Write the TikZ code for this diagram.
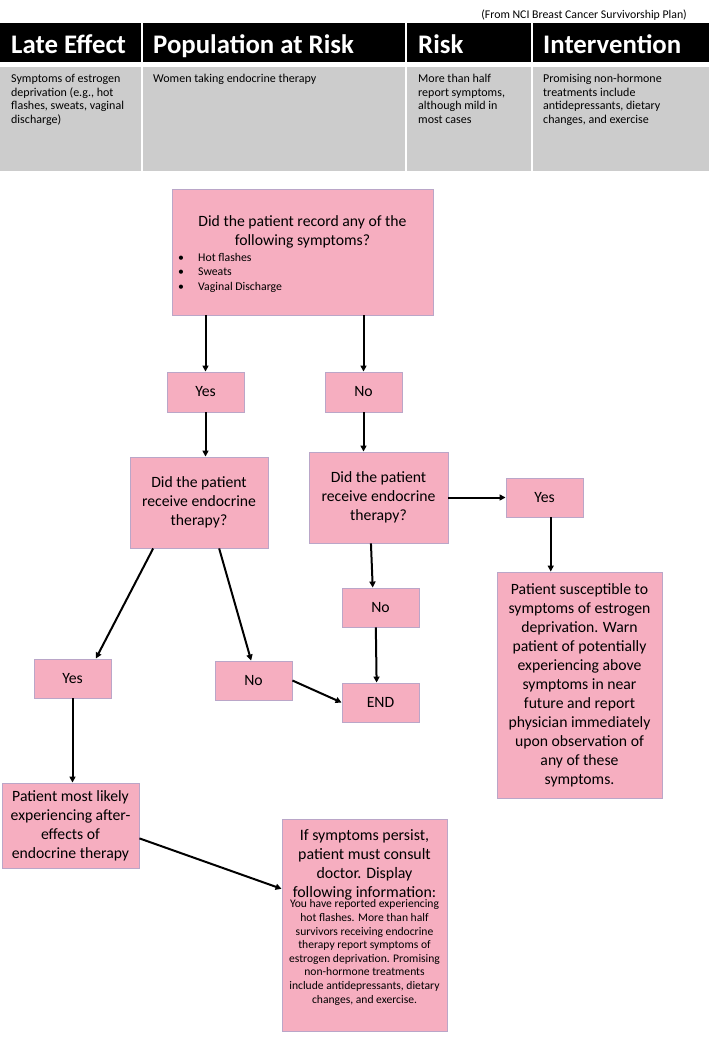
\documentclass[tikz,border=0pt]{standalone}
\usepackage{fontspec}
\setmainfont{Carlito}
\usetikzlibrary{arrows.meta,calc}
\definecolor{pinkfill}{RGB}{246,174,192}
\definecolor{boxline}{RGB}{186,166,200}
\definecolor{cellgray}{RGB}{204,204,204}
\newcommand{\bigtxt}{\fontsize{15.7}{19}\selectfont}
\begin{document}
\begin{tikzpicture}[x=1pt,y=-1pt,
  pbox/.style={draw=boxline, fill=pinkfill, line width=0.9pt, inner sep=0pt, align=center, font=\bigtxt},
  hcell/.style={fill=black, inner sep=0pt, anchor=north west, minimum height=39pt},
  gcell/.style={fill=cellgray, inner sep=0pt, anchor=north west, minimum height=104pt},
  htext/.style={text=white, font=\bfseries\fontsize{26.8}{30}\selectfont, anchor=base west, inner sep=0pt},
  gtext/.style={font=\fontsize{12}{13.7}\selectfont, anchor=north west, inner sep=0pt, align=left},
  arr/.style={line width=2pt, -{Triangle[length=6pt,width=6pt]}},
]
\useasboundingbox (0,0) rectangle (709,1047);

% source note
\node[font=\fontsize{11.8}{13}\selectfont, anchor=base east, inner sep=0pt] (src) at (687,18.5) {(From NCI Breast Cancer Survivorship Plan)};

% table header
\node[hcell, minimum width=141pt] (h1) at (0,23) {};
\node[hcell, minimum width=262pt] (h2) at (143,23) {};
\node[hcell, minimum width=124pt] (h3) at (407,23) {};
\node[hcell, minimum width=176pt] (h4) at (533,23) {};
\node[htext] (ht1) at (11,53) {Late Effect};
\node[htext] (ht2) at (153,53) {Population at Risk};
\node[htext] (ht3) at (418,53) {Risk};
\node[htext] (ht4) at (543,53) {Intervention};

% table body
\node[gcell, minimum width=141pt] (g1) at (0,67) {};
\node[gcell, minimum width=262pt] (g2) at (143,67) {};
\node[gcell, minimum width=124pt] (g3) at (407,67) {};
\node[gcell, minimum width=176pt] (g4) at (533,67) {};
\node[gtext] (gt1) at (11,74) {Symptoms of estrogen\\deprivation (e.g., hot\\flashes, sweats, vaginal\\discharge)};
\node[gtext] (gt2) at (153,74) {Women taking endocrine therapy};
\node[gtext] (gt3) at (418,74) {More than half\\report symptoms,\\although mild in\\most cases};
\node[gtext] (gt4) at (543,74) {Promising non-hormone\\treatments include\\antidepressants, dietary\\changes, and exercise};

% flowchart boxes
\node[pbox, minimum width=261pt, minimum height=126pt] (q1) at (302.5,252) {};
\node[font=\bigtxt, align=center, inner sep=0pt] (q1t) at (302.5,231.5) {Did the patient record any of the\\following symptoms?};
\node[font=\fontsize{11.8}{14.5}\selectfont, align=left, anchor=west, inner sep=0pt] (q1b) at (178,272.5)
  {\makebox[20pt][l]{•}Hot flashes\\\makebox[20pt][l]{•}Sweats\\\makebox[20pt][l]{•}Vaginal Discharge};

\node[pbox, minimum width=77pt, minimum height=40pt] (yes1) at (205.5,392) {Yes};
\node[pbox, minimum width=77pt, minimum height=40pt] (no1) at (363.5,392) {No};

\node[pbox, minimum width=138pt, minimum height=91pt] (q2l) at (199,502.5) {Did the patient\\receive endocrine\\therapy?};
\node[pbox, minimum width=139pt, minimum height=91pt] (q2r) at (378.5,497.5) {Did the patient\\receive endocrine\\therapy?};

\node[pbox, minimum width=77pt, minimum height=39pt] (yes3) at (544.5,497.5) {Yes};
\node[pbox, minimum width=165pt, minimum height=226pt] (warn) at (579.5,685) {Patient susceptible to\\symptoms of estrogen\\deprivation. Warn\\patient of potentially\\experiencing above\\symptoms in near\\future and report\\physician immediately\\upon observation of\\any of these\\symptoms.};

\node[pbox, minimum width=77pt, minimum height=39pt] (no3) at (380.5,607.5) {No};
\node[pbox, minimum width=77pt, minimum height=39pt] (end) at (380.5,702.5) {END};

\node[pbox, minimum width=77pt, minimum height=39pt] (yes2) at (72.5,678.5) {Yes};
\node[pbox, minimum width=77pt, minimum height=39pt] (no2) at (253.5,680.5) {No};

\node[pbox, minimum width=137pt, minimum height=85pt] (pat) at (70.5,825.5) {Patient most likely\\experiencing after-\\effects of\\endocrine therapy};

\node[pbox, minimum width=165pt, minimum height=212pt] (info) at (364.5,925) {};
\node[font=\fontsize{15.9}{19}\selectfont, align=center, inner sep=0pt] (infob) at (364.5,864.5) {If symptoms persist,\\patient must consult\\doctor. Display\\following information:};
\node[font=\fontsize{11.6}{13.6}\selectfont, align=center, inner sep=0pt] (infos) at (364.5,952.5) {You have reported experiencing\\hot flashes. More than half\\survivors receiving endocrine\\therapy report symptoms of\\estrogen deprivation. Promising\\non-hormone treatments\\include antidepressants, dietary\\changes, and exercise.};

% connectors
\draw[arr] (yes1.north |- q1.south) -- (yes1.north);
\draw[arr] (no1.north |- q1.south) -- (no1.north);
\draw[arr] (yes1.south) -- (yes1.south |- q2l.north);
\draw[arr] (no1.south) -- (no1.south |- q2r.north);
\draw[arr] ($(q2l.south west)!0.17!(q2l.south east)$) -- ($(yes2.north west)!0.8!(yes2.north east)$);
\draw[arr] ($(q2l.south west)!0.645!(q2l.south east)$) -- ($(no2.north west)!0.47!(no2.north east)$);
\draw[arr] (no2.east) -- (end.west);
\draw[arr] ($(q2r.south west)!0.446!(q2r.south east)$) -- ($(no3.north west)!0.4!(no3.north east)$);
\draw[arr] ($(no3.south west)!0.44!(no3.south east)$) -- ($(end.north west)!0.45!(end.north east)$);
\draw[arr] (q2r.east) -- (yes3.west);
\coordinate (y3s) at ($(yes3.south west)!0.58!(yes3.south east)$);
\draw[arr] (y3s) -- (y3s |- warn.north);
\draw[arr] (yes2.south) -- (yes2.south |- pat.north);
\draw[arr] ($(pat.north east)!0.65!(pat.south east)$) -- ($(info.north west)!0.33!(info.south west)$);
\end{tikzpicture}
\end{document}
